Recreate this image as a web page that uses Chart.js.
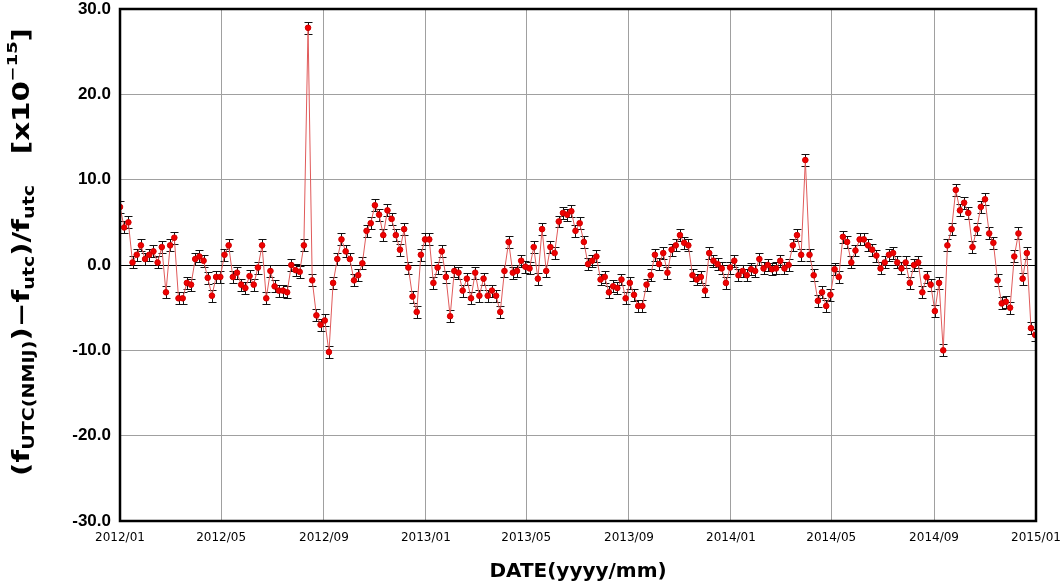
<!DOCTYPE html>
<html>
<head>
<meta charset="utf-8">
<script src="https://cdn.jsdelivr.net/npm/chart.js@4.4.1/dist/chart.umd.min.js"></script>
<style>
  html, body { margin: 0; padding: 0; background: #fff; }
  #wrap { width: 1064px; height: 584px; }
</style>
</head>
<body>
<div id="wrap"><canvas id="chart" width="1064" height="584"></canvas></div>
<script>
// Data: one value every 5 days, first one just before 2012/01
const firstDay = -5;      // days from 2012/01/01
const stepDays = 5;
const offsets = [
  8.6,
  6.8, 4.4, 5.0, 0.3, 1.2, 2.3, 0.7, 1.2, 1.6, 0.3, 2.1, -3.2, 2.3, 3.2, -3.9, -3.9, -2.1, -2.3,
  0.7, 1.0, 0.5, -1.5, -3.6, -1.4, -1.4, 1.2, 2.3, -1.4, -0.9, -2.3, -2.7, -1.3, -2.3, -0.3, 2.3, -3.9,
  -0.7, -2.5, -3.0, -3.0, -3.2, 0.0, -0.6, -0.8, 2.3, 27.8, -1.8, -5.9, -7.0, -6.5, -10.2, -2.1, 0.7, 3.0,
  1.6, 0.7, -1.8, -1.2, 0.2, 4.0, 4.9, 7.0, 5.9, 3.5, 6.4, 5.4, 3.5, 1.8, 4.2, -0.3, -3.7, -5.5, 1.2,
  3.0, 3.0, -2.1, -0.3, 1.6, -1.4, -6.0, -0.7, -0.9, -3.0, -1.6, -3.9, -0.9, -3.6, -1.6, -3.6, -3.0, -3.6,
  -5.5, -0.7, 2.7, -0.9, -0.7, 0.5, -0.2, -0.4, 2.1, -1.6, 4.2, -0.7, 2.1, 1.4, 5.1, 6.1, 5.9, 6.3,
  4.0, 4.9, 2.7, 0.1, 0.5, 1.0, -1.7, -1.4, -3.2, -2.5, -2.7, -1.7, -3.9, -2.1, -3.5, -4.8, -4.8, -2.3,
  -1.2, 1.2, 0.1, 1.4, -0.9, 1.8, 2.3, 3.5, 2.6, 2.3, -1.2, -1.7, -1.4, -3.0, 1.4, 0.5, 0.1, -0.4, -2.1,
  -0.3, 0.5, -1.2, -0.7, -1.2, -0.5, -0.7, 0.7, -0.4, 0.0, -0.5, -0.4, 0.5, -0.4, 0.0, 2.3, 3.5, 1.2,
  12.3, 1.2, -1.2, -4.2, -3.2, -4.8, -3.5, -0.5, -1.4, 3.3, 2.7, 0.3, 1.7, 3.0, 3.0, 2.3, 1.8, 1.1,
  -0.4, 0.3, 1.2, 1.4, 0.3, -0.4, 0.3, -2.1, 0.0, 0.3, -3.2, -1.4, -2.3, -5.4, -2.1, -10.0, 2.3, 4.2,
  8.8, 6.4, 7.3, 6.1, 2.1, 4.2, 6.8, 7.7, 3.7, 2.6, -1.8, -4.5, -4.3, -5.0, 1.0, 3.7, -1.6, 1.4, -7.4, -8.2,
  -5.0
];
const uncertainty = 0.7;
const monthLabels = ['2012/01', '2012/05', '2012/09', '2013/01', '2013/05', '2013/09',
                     '2014/01', '2014/05', '2014/09', '2015/01'];
const yTicks = [-30, -20, -10, 0, 10, 20, 30];

const DAY = 86400000;
const origin = Date.UTC(2012, 0, 1);
function labelToDay(lbl) {
  const [y, m] = lbl.split('/').map(Number);
  return Math.round((Date.UTC(y, m - 1, 1) - origin) / DAY);
}
const monthDays = monthLabels.map(labelToDay);
const points = offsets.map((v, i) => ({ x: firstDay + i * stepDays, y: v }));

// error bars drawn through the scales
const errorBars = {
  id: 'errorBars',
  beforeDatasetsDraw(chart) {
    const { ctx, chartArea: a, scales: { x, y } } = chart;
    ctx.save();
    ctx.beginPath();
    ctx.rect(a.left, a.top, a.right - a.left, a.bottom - a.top);
    ctx.clip();
    ctx.strokeStyle = '#111';
    ctx.lineWidth = 1;
    points.forEach(p => {
      const px = Math.round(x.getPixelForValue(p.x)) + 0.5;
      const top = Math.round(y.getPixelForValue(p.y + uncertainty)) + 0.5;
      const bot = Math.round(y.getPixelForValue(p.y - uncertainty)) + 0.5;
      ctx.beginPath();
      ctx.moveTo(px, top); ctx.lineTo(px, bot);
      ctx.moveTo(px - 4, top); ctx.lineTo(px + 4, top);
      ctx.moveTo(px - 4, bot); ctx.lineTo(px + 4, bot);
      ctx.stroke();
    });
    ctx.restore();
  }
};

// frame and rotated y title with sub/superscripts
const yTitleParts = [
  ['(f', 'n'], ['UTC(NMIJ)', 'sub'], [')\u2212f', 'n'], ['utc', 'sub'], [')/f', 'n'],
  ['utc', 'sub'], ['   [x10', 'n'], ['\u221215', 'sup'], [']', 'n']
];
const decorations = {
  id: 'decorations',
  afterDraw(chart) {
    const { ctx, chartArea: a } = chart;
    ctx.save();
    ctx.strokeStyle = '#000';
    ctx.lineWidth = 2.5;
    ctx.strokeRect(a.left, a.top, a.right - a.left, a.bottom - a.top);

    const fonts = {
      n: 'bold 23px "DejaVu Sans"',
      sub: 'bold 15px "DejaVu Sans"',
      sup: 'bold 14px "DejaVu Sans"'
    };
    const shift = { n: 0, sub: 7, sup: -10 };
    let total = 0;
    yTitleParts.forEach(([t, k]) => { ctx.font = fonts[k]; total += ctx.measureText(t).width; });
    const stretch = 448 / total;
    ctx.translate(23, 252);
    ctx.rotate(-Math.PI / 2);
    ctx.scale(stretch, 1);
    ctx.fillStyle = '#000';
    ctx.textBaseline = 'middle';
    let xPos = -total / 2;
    yTitleParts.forEach(([t, k]) => {
      ctx.font = fonts[k];
      ctx.fillText(t, xPos, shift[k]);
      xPos += ctx.measureText(t).width;
    });
    ctx.restore();
  }
};

new Chart(document.getElementById('chart'), {
  type: 'line',
  data: {
    datasets: [{
      data: points,
      borderColor: '#e05a5a',
      borderWidth: 1,
      pointRadius: 2.8,
      pointBackgroundColor: '#f00000',
      pointBorderColor: '#d00000',
      pointBorderWidth: 1,
      tension: 0
    }]
  },
  options: {
    responsive: false,
    animation: false,
    devicePixelRatio: 1,
    layout: { padding: { top: 9, right: 28, left: 0, bottom: 0 } },
    plugins: { legend: { display: false }, tooltip: { enabled: false } },
    scales: {
      x: {
        type: 'linear',
        min: 0,
        max: monthDays[monthDays.length - 1],
        afterBuildTicks: s => { s.ticks = monthDays.map(v => ({ value: v })); },
        afterFit: s => { s.height = 63; s.paddingLeft = 0; s.paddingRight = 0; },
        grid: { color: '#a0a0a0', drawTicks: false },
        border: { display: false },
        ticks: {
          padding: 10,
          color: '#000',
          font: { family: 'DejaVu Sans', size: 12 },
          maxRotation: 0,
          autoSkip: false,
          callback: (v, i) => monthLabels[i]
        },
        title: {
          display: true,
          text: 'DATE(yyyy/mm)',
          color: '#000',
          font: { family: 'DejaVu Sans', size: 20, weight: 'bold' },
          padding: { top: 4, bottom: 0 }
        }
      },
      y: {
        min: yTicks[0],
        max: yTicks[yTicks.length - 1],
        afterBuildTicks: s => { s.ticks = yTicks.map(v => ({ value: v })); },
        afterFit: s => { s.width = 120; s.paddingTop = 0; s.paddingBottom = 0; },
        grid: {
          color: c => (c.tick && c.tick.value === 0 ? '#000' : '#a0a0a0'),
          drawTicks: false
        },
        border: { display: false },
        ticks: {
          padding: 9,
          color: '#000',
          font: { family: 'Liberation Sans', size: 17, weight: 'bold' },
          callback: v => v.toFixed(1)
        }
      }
    }
  },
  plugins: [errorBars, decorations]
});
</script>
</body>
</html>
